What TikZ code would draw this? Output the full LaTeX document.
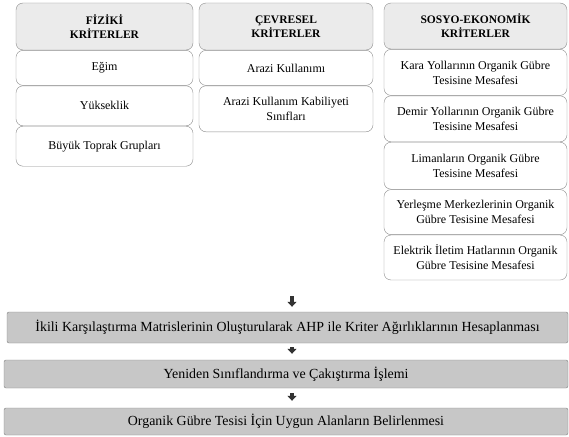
\documentclass[tikz,border=0pt]{standalone}
\usepackage{fontspec}
\setmainfont{Liberation Serif}
\usetikzlibrary{positioning,arrows.meta}

\tikzset{
  kutu/.style={draw=black!45, fill=white, rounded corners=7pt, align=center,
    inner sep=2pt, font=\fontsize{12}{15}\selectfont},
  baslik/.style={kutu, fill=black!8, font=\bfseries\fontsize{11.5}{14}\selectfont},
  adim/.style={draw=black!50, fill=black!22, rounded corners=2pt, inner sep=2pt,
    font=\fontsize{13.9}{16}\selectfont},
  ok/.style={-{Triangle[width=9pt,length=5pt]}, line width=3.2pt, black!80}
}

\begin{document}
\begin{tikzpicture}[x=1pt, y=-1pt]
    \useasboundingbox (0,0) rectangle (569,436);
    % fiziki kriterler
    \begin{scope}[every node/.append style={minimum width=177pt}]
      \node[baslik, minimum height=47pt] (fiz) at (104.5,26.5) {FİZİKİ\\KRİTERLER};
      \node[kutu, minimum height=35pt, below=0pt of fiz] (egim) {Eğim};
      \node[kutu, minimum height=40pt, below=0pt of egim] (yuk) {Yükseklik};
      \node[kutu, minimum height=40pt, below=0pt of yuk] (toprak) {Büyük Toprak Grupları};
    \end{scope}
    % cevresel kriterler
    \begin{scope}[every node/.append style={minimum width=174pt}]
      \node[baslik, minimum height=47pt] (cev) at (286,26.5) {ÇEVRESEL\\KRİTERLER};
      \node[kutu, minimum height=35pt, below=0pt of cev] (arazi) {Arazi Kullanımı};
      \node[kutu, minimum height=46pt, below=0pt of arazi] (kabil) {Arazi Kullanım Kabiliyeti\\Sınıfları};
    \end{scope}
    % sosyo-ekonomik kriterler
    \begin{scope}[every node/.append style={minimum width=183pt}]
      \node[baslik, minimum height=46pt] (sos) at (475.5,26) {SOSYO-EKONOMİK\\KRİTERLER};
      \node[kutu, minimum height=46pt, below=0pt of sos] (kara) {Kara Yollarının Organik Gübre\\Tesisine Mesafesi};
      \node[kutu, minimum height=46pt, below=0pt of kara] (demir) {Demir Yollarının Organik Gübre\\Tesisine Mesafesi};
      \node[kutu, minimum height=47pt, below=0pt of demir] (liman) {Limanların Organik Gübre\\Tesisine Mesafesi};
      \node[kutu, minimum height=45pt, below=0pt of liman] (yer) {Yerleşme Merkezlerinin Organik\\Gübre Tesisine Mesafesi};
      \node[kutu, minimum height=45pt, below=0pt of yer] (elek) {Elektrik İletim Hatlarının Organik\\Gübre Tesisine Mesafesi};
    \end{scope}
    % adimlar
    \node[adim, minimum width=561pt, minimum height=31pt] (ahp) at (287.5,327.5)
      {İkili Karşılaştırma Matrislerinin Oluşturularak AHP ile Kriter Ağırlıklarının Hesaplanması};
    \node[adim, minimum width=564pt, minimum height=28pt] (cakis) at (286,374)
      {Yeniden Sınıflandırma ve Çakıştırma İşlemi};
    \node[adim, minimum width=564pt, minimum height=27pt] (sonuc) at (286,421.5)
      {Organik Gübre Tesisi İçin Uygun Alanların Belirlenmesi};
    % oklar
    \coordinate (ust) at (292,296);
    \draw[ok, shorten >=5pt] (ust) -- (ust |- ahp.north);
    \draw[ok, shorten <=4pt, shorten >=6pt] (ahp.south -| ust) -- (cakis.north -| ust);
    \draw[ok, shorten <=5pt, shorten >=7pt] (cakis.south -| ust) -- (sonuc.north -| ust);
\end{tikzpicture}
\end{document}
